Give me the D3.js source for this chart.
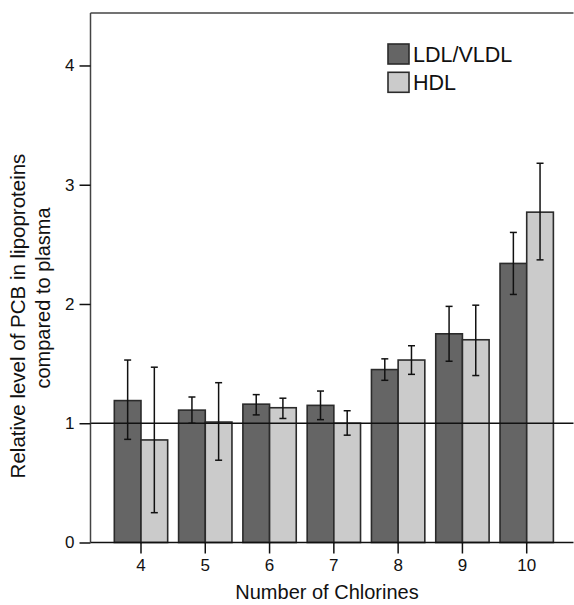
<!DOCTYPE html>
<html>
<head>
<meta charset="utf-8">
<script src="https://cdn.jsdelivr.net/npm/d3@7"></script>
<style>
  body { margin: 0; background: #fff; }
  text { font-family: "Liberation Sans", Arial, sans-serif; fill: #111; }
</style>
</head>
<body>
<svg id="chart" width="574" height="605"></svg>
<script>
// number of chlorines on the x axis
var categories = [4, 5, 6, 7, 8, 9, 10]
var seriesNames = ["LDL/VLDL", "HDL"]

// bar heights
var ldlValues = [1.19, 1.11, 1.16, 1.15, 1.45, 1.75, 2.34]
var hdlValues = [0.86, 1.01, 1.13, 1.00, 1.53, 1.70, 2.77]

// error bar ends
var ldlLow  = [0.865, 1.00, 1.07, 1.03, 1.36, 1.52, 2.08]
var ldlHigh = [1.53, 1.22, 1.24, 1.27, 1.54, 1.98, 2.60]
var hdlLow  = [0.25, 0.69, 1.04, 0.90, 1.41, 1.40, 2.37]
var hdlHigh = [1.47, 1.34, 1.21, 1.105, 1.65, 1.99, 3.18]

var yTicks = [0, 1, 2, 3, 4]
var refValue = 1

function drawChart() {
    var svg = d3.select("#chart")

    var plotLeft = 90.5, plotRight = 573.5, plotTop = 13, plotBottom = 542.5

    var x = d3.scaleBand()
        .domain(categories)
        .range([108.85, 558.85])
        .paddingInner(0.17)
        .paddingOuter(0.085)

    var xSeries = d3.scaleBand()
        .domain(seriesNames)
        .range([0, x.bandwidth()])

    var y = d3.scaleLinear()
        .domain([0, 4.44])
        .range([plotBottom, plotTop])

    var colors = d3.scaleOrdinal().domain(seriesNames).range(["#656565", "#cbcbcb"])

    // one row per bar
    var rows = []
    categories.forEach(function (c, i) {
        rows.push({ cat: c, s: "LDL/VLDL", v: ldlValues[i], lo: ldlLow[i], hi: ldlHigh[i] })
        rows.push({ cat: c, s: "HDL", v: hdlValues[i], lo: hdlLow[i], hi: hdlHigh[i] })
    })

    // bars
    svg.append("g").selectAll("rect")
        .data(rows)
        .enter().append("rect")
        .attr("x", function (d) { return x(d.cat) + xSeries(d.s) })
        .attr("y", function (d) { return y(d.v) })
        .attr("width", xSeries.bandwidth())
        .attr("height", function (d) { return y(0) - y(d.v) })
        .attr("fill", function (d) { return colors(d.s) })
        .attr("stroke", "#2b2b2b")
        .attr("stroke-width", 1.6)

    // reference line at 1
    svg.append("line")
        .attr("x1", plotLeft).attr("x2", plotRight)
        .attr("y1", y(refValue)).attr("y2", y(refValue))
        .attr("stroke", "#111").attr("stroke-width", 1.5)

    // error bars
    var err = svg.append("g").attr("stroke", "#111").attr("stroke-width", 1.5)
    rows.forEach(function (d) {
        var cx = x(d.cat) + xSeries(d.s) + xSeries.bandwidth() / 2
        err.append("line").attr("x1", cx).attr("x2", cx).attr("y1", y(d.lo)).attr("y2", y(d.hi))
        err.append("line").attr("x1", cx - 3.5).attr("x2", cx + 3.5).attr("y1", y(d.lo)).attr("y2", y(d.lo))
        err.append("line").attr("x1", cx - 3.5).attr("x2", cx + 3.5).attr("y1", y(d.hi)).attr("y2", y(d.hi))
    })

    // top frame line
    svg.append("line")
        .attr("x1", plotLeft).attr("x2", plotRight).attr("y1", plotTop).attr("y2", plotTop)
        .attr("stroke", "#444").attr("stroke-width", 1.5)

    // y axis
    var yAxis = svg.append("g")
        .attr("transform", "translate(" + plotLeft + ",0)")
        .call(d3.axisLeft(y).tickValues(yTicks).tickSize(11).tickPadding(5).tickFormat(d3.format("d")))
    yAxis.select(".domain").attr("stroke", "#444").attr("stroke-width", 1.5)
        .attr("d", "M0," + plotTop + "V" + plotBottom)
    yAxis.selectAll(".tick line").attr("stroke", "#111").attr("stroke-width", 1.5)
    yAxis.selectAll("text").style("font-size", "17px").attr("fill", "#222")

    // x axis
    var xAxis = svg.append("g")
        .attr("transform", "translate(0," + plotBottom + ")")
        .call(d3.axisBottom(x).tickSize(11).tickPadding(5))
    xAxis.select(".domain").attr("stroke", "#111").attr("stroke-width", 1.5)
        .attr("d", "M" + plotLeft + ",0H" + plotRight)
    xAxis.selectAll(".tick line").attr("stroke", "#111").attr("stroke-width", 1.5)
    xAxis.selectAll("text").style("font-size", "17px").attr("fill", "#222")

    // axis titles
    svg.append("text")
        .attr("x", 327).attr("y", 599)
        .attr("text-anchor", "middle")
        .style("font-size", "20px")
        .text("Number of Chlorines")

    svg.append("text")
        .attr("transform", "translate(25,316) rotate(-90)")
        .attr("text-anchor", "middle")
        .style("font-size", "20.5px")
        .text("Relative level of PCB in lipoproteins")

    svg.append("text")
        .attr("transform", "translate(50,298) rotate(-90)")
        .attr("text-anchor", "middle")
        .style("font-size", "20px")
        .text("compared to plasma")

    // legend
    var legend = svg.append("g").attr("transform", "translate(388,44)")
    seriesNames.forEach(function (name, i) {
        var g = legend.append("g").attr("transform", "translate(0," + (i * 28.3) + ")")
        g.append("rect")
            .attr("width", 21).attr("height", 20)
            .attr("fill", colors(name))
            .attr("stroke", "#2b2b2b").attr("stroke-width", 1.6)
        g.append("text")
            .attr("x", 25).attr("y", 18)
            .style("font-size", "21.5px")
            .text(name)
    })
}

drawChart()
</script>
</body>
</html>
